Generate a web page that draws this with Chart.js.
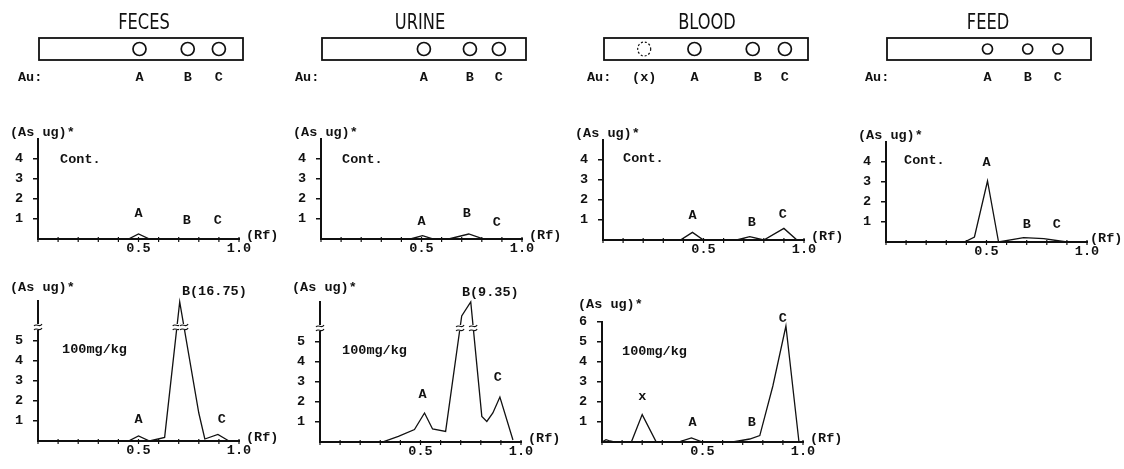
<!DOCTYPE html>
<html>
<head>
<meta charset="utf-8">
<title>As densitograms</title>
<script src="https://cdn.jsdelivr.net/npm/chart.js@4.4.1/dist/chart.umd.min.js"></script>
<style>
  body { margin: 0; background: #fff; }
  #page { position: relative; width: 1124px; height: 469px; overflow: hidden; }
  canvas { position: absolute; }
  .ttl { position: absolute; top: 10px; width: 120px; text-align: center; line-height: 26px;
         font: 21px "Liberation Sans Narrow", "DejaVu Sans Condensed", sans-serif;
         transform: scaleX(0.86); color: #111; }
</style>
</head>
<body>
<div id="page"></div>
<script>
// Rf position / As (ug) height.
// Heights above the broken axis (100mg/kg feces & urine) are as drawn on the compressed part.
const rfFecesCont = [0, 0.45, 0.5, 0.555, 0.95];
const asFecesCont = [0, 0, 0.25, 0, 0];
const rfUrineCont = [0, 0.445, 0.505, 0.56, 0.635, 0.735, 0.81, 0.95];
const asUrineCont = [0, 0, 0.17, 0, 0, 0.25, 0, 0];
const rfBloodCont = [0, 0.385, 0.445, 0.5, 0.665, 0.73, 0.8, 0.9, 0.965, 0.98];
const asBloodCont = [0, 0, 0.38, 0, 0, 0.17, 0, 0.58, 0, 0];
const rfFeedCont = [0, 0.39, 0.44, 0.505, 0.56, 0.685, 0.785, 0.865, 0.9];
const asFeedCont = [0, 0, 0.25, 3.05, 0, 0.22, 0.17, 0.05, 0];

const rfFeces100 = [0, 0.45, 0.5, 0.555, 0.63, 0.705, 0.8, 0.83, 0.895, 0.95];
const asFeces100 = [0, 0, 0.25, 0, 0.18, 6.95, 1.4, 0.1, 0.33, 0];
const rfUrine100 = [0, 0.31, 0.39, 0.47, 0.52, 0.56, 0.625, 0.705, 0.75, 0.805, 0.83, 0.86, 0.895, 0.96];
const asUrine100 = [0, 0, 0.28, 0.62, 1.45, 0.65, 0.53, 6.3, 7.0, 1.28, 1.03, 1.45, 2.25, 0.1];
const rfBlood100 = [0, 0.02, 0.04, 0.06, 0.146, 0.2, 0.27, 0.38, 0.445, 0.5, 0.65, 0.735, 0.785, 0.85, 0.915, 0.98];
const asBlood100 = [0, 0.12, 0.05, 0, 0, 1.37, 0, 0, 0.2, 0, 0, 0.15, 0.32, 2.8, 5.8, 0];

// TLC strips: gold (Au) spots
const spotRfFeces = [0.5, 0.74, 0.895];
const spotRfUrine = [0.507, 0.736, 0.88];
const spotRfBlood = [0.45, 0.74, 0.9];
const faintRfBlood = [0.2];
const spotRfFeed = [0.5, 0.7, 0.85];
const spotNames = ['A', 'B', 'C'];
const spotNamesBlood = ['(x)', 'A', 'B', 'C'];
const nameRfBlood = [0.2, 0.45, 0.765, 0.9];

const MONO = '"Liberation Mono", "DejaVu Sans Mono", monospace';
const TXT = 'bold 13.5px ' + MONO;
const INK = '#111';
const page = document.getElementById('page');

function addCanvas(left, top, w, h) {
  const c = document.createElement('canvas');
  c.width = w; c.height = h;
  c.style.left = left + 'px'; c.style.top = top + 'px';
  c.style.width = w + 'px'; c.style.height = h + 'px';
  page.appendChild(c);
  return c;
}

function addTitle(text, cx) {
  const d = document.createElement('div');
  d.className = 'ttl';
  d.textContent = text;
  d.style.left = (cx - 60) + 'px';
  page.appendChild(d);
}

// ---- strips ----
function strip(s) {
  const c = addCanvas(s.x0 - 40, 0, 284, 92);
  new Chart(c, {
    type: 'scatter',
    data: { datasets: [{
      data: s.spots.map(r => ({ x: r, y: 0.5 })),
      pointRadius: s.r, pointBorderWidth: 1.7,
      pointBackgroundColor: '#fff', pointBorderColor: INK
    }] },
    options: {
      responsive: false, animation: false, events: [],
      layout: { padding: { left: 41, right: 39, top: 38, bottom: 32 } },
      plugins: { legend: { display: false }, tooltip: { enabled: false } },
      scales: {
        x: { display: false, min: 0, max: 1.015 },
        y: { display: false, min: 0, max: 1 }
      }
    },
    plugins: [{
      id: 'strip',
      beforeDatasetsDraw(chart) {
        const { ctx, chartArea: a } = chart;
        ctx.save();
        ctx.strokeStyle = INK; ctx.lineWidth = 1.8;
        ctx.strokeRect(a.left, a.top, a.right - a.left, a.bottom - a.top);
        ctx.restore();
      },
      afterDatasetsDraw(chart) {
        const { ctx, scales: { x }, chartArea: a } = chart;
        const mid = (a.top + a.bottom) / 2;
        ctx.save();
        ctx.strokeStyle = INK; ctx.lineWidth = 1.2; ctx.setLineDash([2, 2]);
        (s.faint || []).forEach(r => {
          ctx.beginPath();
          ctx.ellipse(x.getPixelForValue(r), mid, s.r, s.r + 0.5, 0, 0, Math.PI * 2);
          ctx.stroke();
        });
        ctx.setLineDash([]);
        ctx.fillStyle = INK; ctx.font = TXT; ctx.textBaseline = 'middle';
        ctx.textAlign = 'left';
        ctx.fillText('Au:', a.left + s.auDx, a.bottom + 18);
        ctx.textAlign = 'center';
        s.names.forEach((n, i) => ctx.fillText(n, x.getPixelForValue(s.nameRf[i]), a.bottom + 18));
        ctx.restore();
      }
    }]
  });
  addTitle(s.title, s.tx);
}

// ---- densitograms ----
function breakMark(ctx, px, py) {
  ctx.save();
  ctx.fillStyle = '#fff';
  ctx.fillRect(px - 5, py - 3, 10, 6);
  ctx.strokeStyle = INK; ctx.lineWidth = 1.1;
  [-2, 2].forEach(d => {
    ctx.beginPath();
    ctx.moveTo(px - 4, py + d + 1);
    ctx.bezierCurveTo(px - 1.5, py + d - 2.5, px + 1.5, py + d + 3.5, px + 4, py + d - 1);
    ctx.stroke();
  });
  ctx.restore();
}

function plot(p) {
  const unit = 20, padTop = 25, xH = 30, yW = 40, padR = 49;
  const c = addCanvas(p.x0 - yW, p.base - p.ymax * unit - padTop, yW + 201 + padR, padTop + p.ymax * unit + xH);
  new Chart(c, {
    type: 'line',
    data: { datasets: [{
      data: p.rf.map((r, i) => ({ x: r, y: p.as[i] })),
      borderColor: INK, borderWidth: 1.3, pointRadius: 0, tension: 0, fill: false, clip: false
    }] },
    options: {
      responsive: false, animation: false, events: [],
      layout: { padding: { left: 0, top: padTop, right: padR, bottom: 0 } },
      plugins: { legend: { display: false }, tooltip: { enabled: false } },
      scales: {
        x: {
          type: 'linear', min: 0, max: 1,
          afterFit: s => { s.height = xH; },
          grid: { drawOnChartArea: false, drawTicks: false },
          border: { color: INK, width: 2 },
          ticks: {
            stepSize: 0.1, autoSkip: false, maxRotation: 0, padding: 1, color: INK,
            font: { family: MONO, size: 13.5, weight: 'bold' },
            callback: v => Math.abs(v - 0.5) < 1e-6 ? '0.5' : (Math.abs(v - 1) < 1e-6 ? '1.0' : '')
          }
        },
        y: {
          min: 0, max: p.ymax,
          afterFit: s => { s.width = yW; },
          grid: {
            drawOnChartArea: false, tickLength: 5, lineWidth: 1.5,
            color: ctx => (ctx.tick && ctx.tick.value >= 1 && ctx.tick.value <= p.yLab) ? INK : 'rgba(0,0,0,0)'
          },
          border: { color: INK, width: 2 },
          ticks: {
            stepSize: 1, padding: 10, color: INK,
            font: { family: MONO, size: 13.5, weight: 'bold' },
            callback: v => (v >= 1 && v <= p.yLab) ? String(v) : ''
          }
        }
      }
    },
    plugins: [{
      id: 'decor',
      afterDraw(chart) {
        const { ctx, scales: { x, y }, chartArea: a } = chart;
        ctx.save();
        ctx.strokeStyle = INK; ctx.lineWidth = 1.2;
        x.ticks.forEach(t => {
          const px = x.getPixelForValue(t.value);
          ctx.beginPath(); ctx.moveTo(px, a.bottom - 2); ctx.lineTo(px, a.bottom + 3); ctx.stroke();
        });
        ctx.fillStyle = INK; ctx.font = TXT; ctx.textBaseline = 'middle';
        ctx.textAlign = 'left';
        ctx.fillText('(As ug)*', a.left - (p.unitDx || 28), a.top - p.unitDy);
        ctx.fillText('(Rf)', a.right + (p.rfDx || 7), a.bottom - 3);
        ctx.fillText(p.tag[0], x.getPixelForValue(p.tag[1]), y.getPixelForValue(p.tag[2]));
        p.marks.forEach(m => {
          ctx.textAlign = m[3] || 'center';
          ctx.fillText(m[0], x.getPixelForValue(m[1]), y.getPixelForValue(m[2]));
        });
        if (p.breakAt) {
          const by = y.getPixelForValue(p.breakAt);
          breakMark(ctx, a.left, by);
          p.breakRf.forEach(r => breakMark(ctx, x.getPixelForValue(r), by));
        }
        ctx.restore();
      }
    }]
  });
}

strip({ title: 'FECES', tx: 144, x0: 38, r: 6.5, spots: spotRfFeces, names: spotNames, nameRf: spotRfFeces, auDx: -21 });
strip({ title: 'URINE', tx: 420, x0: 321, r: 6.5, spots: spotRfUrine, names: spotNames, nameRf: spotRfUrine, auDx: -27 });
strip({ title: 'BLOOD', tx: 707, x0: 603, r: 6.5, spots: spotRfBlood, faint: faintRfBlood, names: spotNamesBlood, nameRf: nameRfBlood, auDx: -17 });
strip({ title: 'FEED', tx: 988, x0: 886, r: 5, spots: spotRfFeed, names: spotNames, nameRf: spotRfFeed, auDx: -22 });

plot({ x0: 38, base: 239, ymax: 5, yLab: 4, rf: rfFecesCont, as: asFecesCont, unitDy: 6,
  tag: ['Cont.', 0.11, 3.95], marks: [['A', 0.5, 1.25], ['B', 0.74, 0.9], ['C', 0.895, 0.9]] });
plot({ x0: 321, base: 239, ymax: 5, yLab: 4, rf: rfUrineCont, as: asUrineCont, unitDy: 6,
  tag: ['Cont.', 0.105, 3.95], marks: [['A', 0.5, 0.85], ['B', 0.725, 1.25], ['C', 0.875, 0.8]] });
plot({ x0: 603, base: 240, ymax: 5, yLab: 4, rf: rfBloodCont, as: asBloodCont, unitDy: 6,
  tag: ['Cont.', 0.1, 4.05], marks: [['A', 0.445, 1.2], ['B', 0.74, 0.85], ['C', 0.895, 1.25]] });
plot({ x0: 886, base: 242, ymax: 5, yLab: 4, rf: rfFeedCont, as: asFeedCont, unitDy: 6, rfDx: 3,
  tag: ['Cont.', 0.09, 4.05], marks: [['A', 0.5, 3.95], ['B', 0.7, 0.85], ['C', 0.85, 0.85]] });

plot({ x0: 38, base: 441, ymax: 7, yLab: 5, rf: rfFeces100, as: asFeces100, unitDy: 13,
  tag: ['100mg/kg', 0.12, 4.55], marks: [['A', 0.5, 1.05], ['B(16.75)', 0.716, 7.45, 'left'], ['C', 0.915, 1.05]],
  breakAt: 5.7, breakRf: [0.69, 0.727] });
plot({ x0: 320, base: 442, ymax: 7, yLab: 5, rf: rfUrine100, as: asUrine100, unitDy: 14,
  tag: ['100mg/kg', 0.11, 4.55], marks: [['A', 0.51, 2.35], ['B(9.35)', 0.706, 7.45, 'left'], ['C', 0.885, 3.2]],
  breakAt: 5.7, breakRf: [0.697, 0.762] });
plot({ x0: 602, base: 442, ymax: 6, yLab: 6, rf: rfBlood100, as: asBlood100, unitDy: 17, unitDx: 24,
  tag: ['100mg/kg', 0.1, 4.5], marks: [['x', 0.2, 2.25], ['A', 0.45, 0.95], ['B', 0.745, 0.95], ['C', 0.9, 6.15]] });
</script>
</body>
</html>
